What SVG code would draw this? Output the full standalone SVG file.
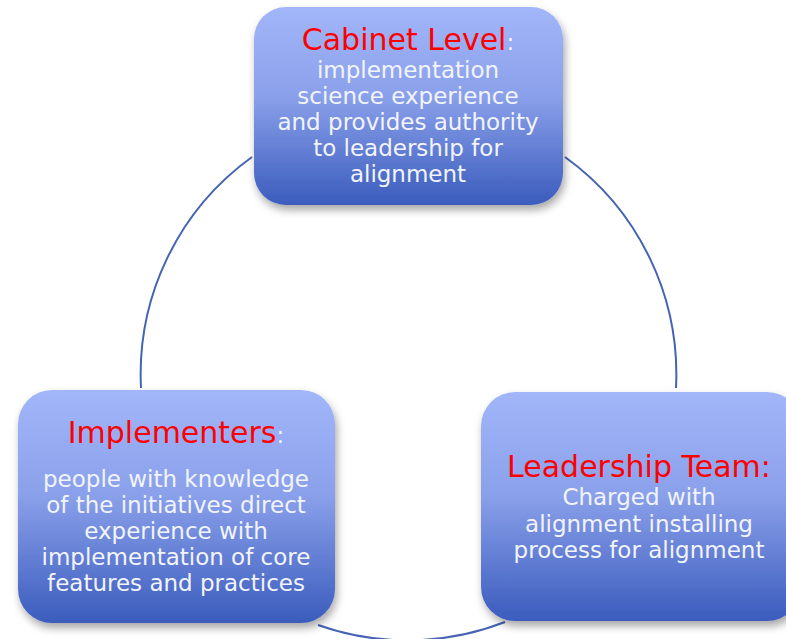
<svg xmlns="http://www.w3.org/2000/svg" width="786" height="639" viewBox="0 0 786 639">
<defs>
<linearGradient id="g" x1="0" y1="0" x2="0" y2="1">
<stop offset="0" stop-color="#a2b6f9"/>
<stop offset="0.45" stop-color="#8aa0ea"/>
<stop offset="1" stop-color="#3b5cbd"/>
</linearGradient>
<filter id="sh" x="-10%" y="-10%" width="125%" height="130%">
<feDropShadow dx="2" dy="5" stdDeviation="4" flood-color="#000" flood-opacity="0.35"/>
</filter>
<style>
.box{fill:url(#g);filter:url(#sh);}
.t{font-family:"DejaVu Sans",sans-serif;text-anchor:middle;}
.h{fill:#ff0000;font-size:30px;}
.b{fill:#f2f4fc;font-size:23px;}
.c{fill:none;stroke:#4563b4;stroke-width:2;}
</style>
</defs>
<rect width="786" height="639" fill="#fff"/>
<g id="connectors">
<path class="c" d="M 252 157 A 268 268 0 0 0 141 388"/>
<path class="c" d="M 565 157 A 268 268 0 0 1 676 388"/>
<path class="c" d="M 318 625 A 268 268 0 0 0 505 622"/>
</g>
<g id="cabinet">
<rect class="box" x="254" y="7" width="309" height="198" rx="32"/>
<text class="t" x="408" y="50"><tspan class="h" font-size="29px">Cabinet Level</tspan><tspan class="b">:</tspan></text>
<text class="t b" x="408" y="78">implementation</text>
<text class="t b" x="408" y="104">science experience</text>
<text class="t b" x="408" y="130">and provides authority</text>
<text class="t b" x="408" y="156">to leadership for</text>
<text class="t b" x="408" y="182">alignment</text>
</g>
<g id="implementers">
<rect class="box" x="18" y="390" width="317" height="233" rx="34"/>
<text class="t" x="176" y="443"><tspan class="h">Implementers</tspan><tspan class="b">:</tspan></text>
<text class="t b" x="176" y="487">people with knowledge</text>
<text class="t b" x="176" y="513">of the initiatives direct</text>
<text class="t b" x="176" y="539">experience with</text>
<text class="t b" x="176" y="565">implementation of core</text>
<text class="t b" x="176" y="591">features and practices</text>
</g>
<g id="leadership">
<rect class="box" x="481" y="392" width="320" height="229" rx="34"/>
<text class="t h" x="639" y="477">Leadership Team:</text>
<text class="t b" x="639" y="505">Charged with</text>
<text class="t b" x="639" y="532">alignment installing</text>
<text class="t b" x="639" y="558">process for alignment</text>
</g>
</svg>
